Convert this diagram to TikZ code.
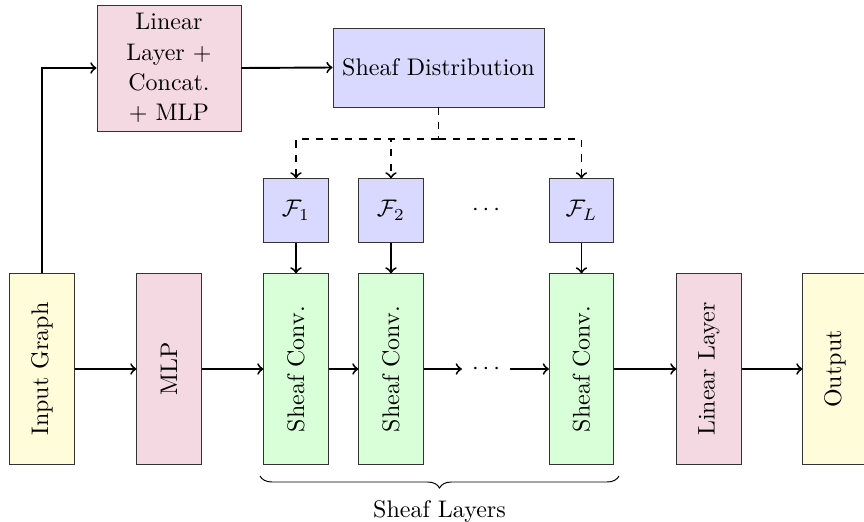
\documentclass[tikz,border=0pt]{standalone}
\usetikzlibrary{decorations.pathreplacing}

\begin{document}
\begin{tikzpicture}[x=0.41667pt,y=-0.41667pt,
  box/.style={draw=black!80,line width=0.4pt,inner sep=0pt,align=center},
  vbox/.style={box,minimum width=26.7pt,minimum height=79.2pt},
  sbox/.style={box,minimum width=26.7pt,minimum height=26.3pt},
  yel/.style={fill=yellow!15},
  pnk/.style={fill=purple!15},
  grn/.style={fill=green!15},
  blu/.style={fill=blue!15},
  flow/.style={->,thick},
  dflow/.style={->,thick,dashed}]
\useasboundingbox (0,0) rectangle (864,522);

% main row
\node[vbox,yel] (ig)  at (42,369)    {\rotatebox{90}{Input Graph}};
\node[vbox,pnk] (mlp) at (169,369)   {\rotatebox{90}{MLP}};
\node[vbox,grn] (c1)  at (296,369)   {\rotatebox{90}{Sheaf Conv.}};
\node[vbox,grn] (c2)  at (391,369)   {\rotatebox{90}{Sheaf Conv.}};
\node[inner sep=4pt] (dots) at (486,369) {$\cdots$};
\node[vbox,grn] (cL)  at (581.5,369) {\rotatebox{90}{Sheaf Conv.}};
\node[vbox,pnk] (lin) at (709,369)   {\rotatebox{90}{Linear Layer}};
\node[vbox,yel] (out) at (835,369)   {\rotatebox{90}{Output}};

% sheaf row
\node[sbox,blu] (f1) at (296,210.5)   {$\mathcal{F}_1$};
\node[sbox,blu] (f2) at (391,210.5)   {$\mathcal{F}_2$};
\node (fdots)        at (486,210.5)   {$\cdots$};
\node[sbox,blu] (fL) at (581.5,210.5) {$\mathcal{F}_L$};

% top row
\node[box,pnk,minimum width=60pt,minimum height=52.5pt] (pre) at (169,68)
  {Linear\\[0.6pt]Layer $+$\\[0.6pt]Concat.\\[0.6pt]$+$ MLP};
\node[box,blu,minimum width=87.9pt,minimum height=32.9pt] (dist) at (438.5,67.5)
  {Sheaf Distribution};

% connectors
\draw[flow] (ig) -- (mlp);
\draw[flow] (mlp) -- (c1);
\draw[flow] (c1) -- (c2);
\draw[flow] (c2) -- (dots);
\draw[flow] (dots) -- (cL);
\draw[flow] (cL) -- (lin);
\draw[flow] (lin) -- (out);
\draw[flow] (ig.north) |- (pre.west);
\draw[flow] (pre.east) -- (dist.west);

\coordinate (fork) at (438.5,139);
\draw[thick,dashed] (dist.south) -- (fork);
\draw[dflow] (fork) -| (f1.north);
\draw[dflow] (fork) -| (f2.north);
\draw[dflow] (fork) -| (fL.north);

\draw[flow] (f1) -- (c1);
\draw[flow] (f2) -- (c2);
\draw[flow] (fL) -- (cL);

% brace under the sheaf layers
\coordinate (bl) at (260,476);
\coordinate (br) at (619,476);
\draw[decorate,decoration={brace,mirror,amplitude=5pt}] (bl) -- (br)
  node[midway,below=6.5pt] (lbl) {Sheaf Layers};
\end{tikzpicture}
\end{document}
